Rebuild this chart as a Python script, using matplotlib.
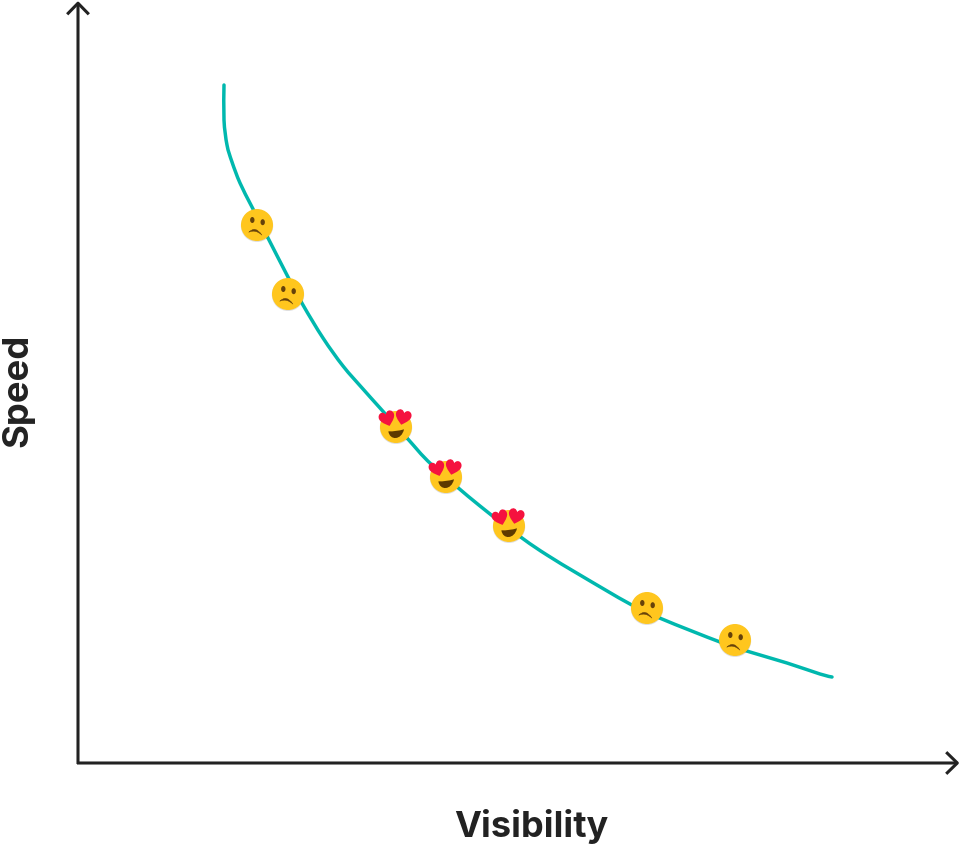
import matplotlib
matplotlib.use('Agg')
import matplotlib.pyplot as plt
from matplotlib.patches import Circle, Ellipse, PathPatch
from matplotlib.path import Path
from matplotlib.transforms import Affine2D

plt.rcParams['font.family'] = ['Inter', 'DejaVu Sans']

curve_x = [146, 146, 149, 154, 162, 174, 190, 210, 225, 245, 265, 285, 302, 329, 354,
           402, 444, 469, 502, 552, 584, 642, 672, 709, 742, 754]
curve_y = [678, 643, 618, 601, 580, 556, 525, 486, 458, 425, 397, 374, 355, 325, 298,
           257, 225, 208, 188, 159, 144, 121, 111, 100, 89, 86]
sad_x = [179, 210, 569, 657]
sad_y = [538, 469, 155, 123]
love_x = [318, 368, 431]
love_y = [336, 286, 237]
x_label = 'Visibility'
y_label = 'Speed'

INK = '#222222'
TEAL = '#00B8AE'
FACE = '#FFC61E'
BROWN = '#66420A'
RED = '#F5123F'

fig = plt.figure(figsize=(9.6, 8.46), dpi=100)
ax = fig.add_axes([0, 0, 1, 1])
ax.set_xlim(-78, 882)
ax.set_ylim(-83, 763)
ax.axis('off')


def smooth_path(xs, ys):
    # catmull-rom through the points, written as bezier segments
    pts = list(zip(xs, ys))
    verts = [pts[0]]
    for i in range(len(pts) - 1):
        p0 = pts[max(i - 1, 0)]
        p1 = pts[i]
        p2 = pts[i + 1]
        p3 = pts[min(i + 2, len(pts) - 1)]
        verts.append((p1[0] + (p2[0] - p0[0]) / 6, p1[1] + (p2[1] - p0[1]) / 6))
        verts.append((p2[0] - (p3[0] - p1[0]) / 6, p2[1] - (p3[1] - p1[1]) / 6))
        verts.append(p2)
    return Path(verts, [Path.MOVETO] + [Path.CURVE4] * (len(verts) - 1))


def face(x, y):
    ax.add_patch(Circle((x, y - 0.8), 16.2, fc='#000000', ec='none', alpha=0.13, zorder=3))
    ax.add_patch(Circle((x, y), 16, fc=FACE, ec='none', zorder=4))


def sad(x, y):
    face(x, y)
    ax.add_patch(Ellipse((x - 4.7, y + 5), 4.4, 6, fc=BROWN, ec='none', zorder=5))
    ax.add_patch(Ellipse((x + 5.7, y + 2.8), 4.4, 6, fc=BROWN, ec='none', zorder=5))
    mouth = Path([(x - 8.2, y - 7.2), (x - 1.5, y - 0.2), (x + 5, y - 10.2),
                  (x - 1.5, y - 4), (x - 8.2, y - 7.2)],
                 [Path.MOVETO, Path.CURVE3, Path.CURVE3, Path.CURVE3, Path.CURVE3])
    ax.add_patch(PathPatch(mouth, fc=BROWN, ec=BROWN, lw=0.3, zorder=5))


def heart(x, y, angle):
    verts = [(0, -0.5), (-0.3, -0.25), (-0.68, 0.05), (-0.5, 0.38),
             (-0.35, 0.62), (-0.08, 0.55), (0, 0.32),
             (0.08, 0.55), (0.35, 0.62), (0.5, 0.38),
             (0.68, 0.05), (0.3, -0.25), (0, -0.5)]
    codes = [Path.MOVETO] + [Path.CURVE4] * 12
    tr = Affine2D().scale(14.5, 14.5).rotate_deg(angle).translate(x, y)
    ax.add_patch(PathPatch(Path(verts, codes).transformed(tr), fc=RED, ec='none', zorder=6))


def love(x, y):
    face(x, y)
    mouth = Path([(x - 7.6, y - 4.3), (x - 6.5, y - 13.6), (x + 5.5, y - 13.6), (x + 8, y - 2.3),
                  (x + 3, y - 3.8), (x - 3, y - 4.6), (x - 7.6, y - 4.3)],
                 [Path.MOVETO] + [Path.CURVE4] * 6)
    ax.add_patch(PathPatch(mouth, fc='#5E3A00', ec='none', zorder=5))
    heart(x - 8.7, y + 8, 18)
    heart(x + 7, y + 9.3, -14)


ax.add_patch(PathPatch(smooth_path(curve_x, curve_y), fc='none', ec=TEAL, lw=2.5,
                       capstyle='round', joinstyle='round', zorder=2))

for x, y in zip(sad_x, sad_y):
    sad(x, y)
for x, y in zip(love_x, love_y):
    love(x, y)

arrow = dict(arrowstyle='->,head_length=8,head_width=7.8', color=INK, lw=2.2,
             shrinkA=0, shrinkB=0, mutation_scale=1, joinstyle='round', capstyle='butt')
ax.annotate('', xy=(881.5, 0), xytext=(-1, 0), arrowprops=arrow, zorder=1)
ax.annotate('', xy=(0, 762), xytext=(0, -1), arrowprops=arrow, zorder=1)

ax.text(453.5, -74, x_label, fontsize=26, fontweight='bold', color=INK,
        ha='center', va='baseline')
ax.text(-51, 373, y_label, fontsize=26.2, fontweight='bold', color=INK,
        ha='center', va='baseline', rotation=90, rotation_mode='anchor')

fig.savefig('out.png', dpi=100, facecolor='white')
